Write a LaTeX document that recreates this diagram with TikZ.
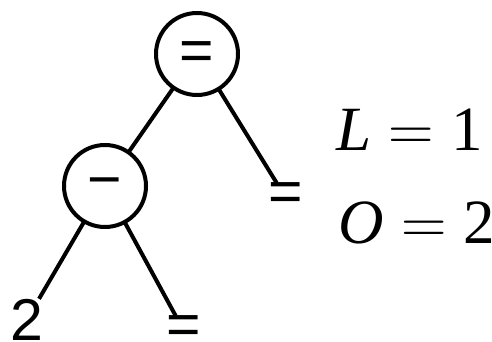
\RequirePackage{fix-cm}
\documentclass[tikz,border=0pt]{standalone}
\usepackage[no-math]{fontspec}
\setmainfont{Liberation Serif}
\newfontfamily\leafsans{Liberation Sans}
\tikzset{
  opnode/.style={circle, draw=black, line width=4pt, minimum size=82pt, inner sep=0pt, outer sep=0pt},
  optext/.style={inner sep=0pt, outer sep=0pt, anchor=base, font=\leafsans\fontsize{59}{59}\selectfont},
  leaf/.style={inner sep=0pt, outer sep=0pt, anchor=base, font=\leafsans\fontsize{59}{59}\selectfont},
  edge/.style={line width=4pt},
  eqtext/.style={inner sep=0pt, outer sep=0pt, anchor=base west, font=\fontsize{63}{63}\selectfont}
}
\begin{document}
\begin{tikzpicture}[x=1pt, y=-1pt]
\useasboundingbox (0,0) rectangle (492,342);
\node[opnode] (root) at (197,54) {};
\node[optext] (rootop) at (197,70.4) {=};
\node[opnode] (left) at (105,186) {};
\node[optext] (leftop) at (105,199.7) {−};
\node[leaf] (rleaf) at (285.5,211.7) {=};
\node[leaf] (two) at (27,340) {2};
\node[leaf] (lleaf) at (183.5,344.7) {=};
\draw[edge] (root) -- (left);
\draw[edge] (root) -- (rleaf);
\draw[edge] (left) -- (two);
\draw[edge] (left) -- (lleaf);
\node[eqtext] (eqL) at (336,150) {\textit{L}\hspace{0.2778em}$=$\hspace{0.2778em}1};
\node[eqtext] (eqO) at (338,243) {\textit{O}\hspace{0.2778em}$=$\hspace{0.2778em}2};
\end{tikzpicture}
\end{document}
